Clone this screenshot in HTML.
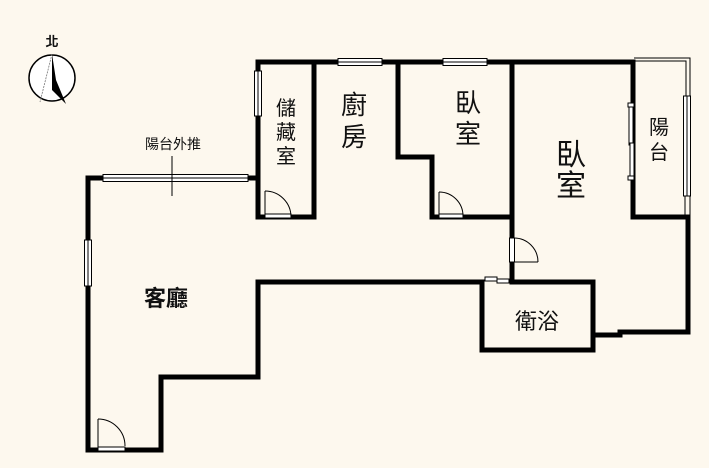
<!DOCTYPE html>
<html><head><meta charset="utf-8"><style>
html,body{margin:0;padding:0;background:#fdf8ee;}
svg{display:block;}
text{font-family:"Liberation Sans","Noto Sans CJK TC",sans-serif;fill:#111;}
</style></head><body>
<svg width="709" height="468" viewBox="0 0 709 468" xmlns="http://www.w3.org/2000/svg">
<rect width="709" height="468" fill="#fdf8ee"/>
<g stroke="#000" stroke-width="5" fill="none" stroke-linecap="square">
<polyline points="103,178 88,178 88,450 161,450 161,377 258,377 258,282 482,282"/>
<line x1="248" y1="178" x2="258" y2="178"/>
<polyline points="258,178 258,62 633,62"/>
<polyline points="314,62 314,217 258,217 258,178"/>
<polyline points="398,62 398,157 432,157 432,217 512,217"/>
<line x1="512" y1="62" x2="512" y2="238"/>
<line x1="512" y1="262" x2="512" y2="282"/>
<polyline points="482,282 482,350 593,350 593,282 512,282"/>
<polyline points="633,62 633,217 688,217 688,332 620,332 620,335 593,335"/>
</g>
<g stroke="#000" stroke-width="1" fill="#fff">
<rect x="103" y="174.5" width="145" height="7"/>
<line x1="103" y1="178" x2="248" y2="178"/>
<rect x="84.5" y="240" width="7" height="46"/>
<line x1="88" y1="240" x2="88" y2="286"/>
<rect x="254.5" y="71" width="7" height="45"/>
<line x1="258" y1="71" x2="258" y2="116"/>
<rect x="338" y="58.5" width="44" height="7"/>
<line x1="338" y1="62" x2="382" y2="62"/>
<rect x="443" y="58.5" width="44" height="7"/>
<line x1="443" y1="62" x2="487" y2="62"/>
<rect x="683.5" y="96" width="7" height="100"/>
<line x1="687" y1="96" x2="687" y2="196"/>
<rect x="629" y="105" width="4" height="40"/>
<rect x="630" y="143" width="4" height="36"/>
<rect x="628" y="103" width="6" height="4"/>
<rect x="628" y="176" width="6" height="4"/>
<rect x="485" y="277" width="12" height="4"/>
<rect x="497" y="279" width="12" height="4"/>
<rect x="98" y="447" width="27" height="4"/>
<rect x="265" y="214" width="26" height="4"/>
<rect x="439" y="214" width="24" height="4"/>
<rect x="509.5" y="238" width="5" height="24"/>
</g>
<g stroke="#000" stroke-width="1" fill="none">
<polyline points="634,58 690,58 690,96"/>
<polyline points="634,61 686,61 686,96"/>
<line x1="685" y1="196" x2="685" y2="217"/>
<line x1="690" y1="196" x2="690" y2="217"/>
<line x1="172" y1="156" x2="172" y2="196"/>
<path d="M98,419 A27,27 0 0 1 125,446"/><line x1="98" y1="419" x2="98" y2="447"/>
<path d="M265,191 A26,26 0 0 1 291,217"/><line x1="265" y1="191" x2="265" y2="214"/>
<path d="M439,192 A24,24 0 0 1 463,216"/><line x1="439" y1="192" x2="439" y2="214"/>
<path d="M514,238 A24,24 0 0 1 538,262"/><line x1="514" y1="262" x2="538" y2="262"/>
</g>
<circle cx="52" cy="78" r="23" fill="#fff" stroke="#000" stroke-width="1.5"/>
<polygon points="52,54 56,80 66,104 52,90" fill="#000"/>
<line x1="52" y1="54" x2="40" y2="102" stroke="#777" stroke-width="0.8" stroke-dasharray="2,1"/>
<text x="52" y="46" font-size="13" font-weight="bold" text-anchor="middle">北</text>
<text x="173" y="149" font-size="14" text-anchor="middle">陽台外推</text>
<text x="166" y="306" font-size="22" font-weight="bold" text-anchor="middle">客廳</text>
<text x="286" y="115" font-size="20" text-anchor="middle">儲</text>
<text x="286" y="139" font-size="20" text-anchor="middle">藏</text>
<text x="286" y="163" font-size="20" text-anchor="middle">室</text>
<text x="354" y="114" font-size="26" text-anchor="middle">廚</text>
<text x="354" y="146" font-size="26" text-anchor="middle">房</text>
<text x="468" y="112" font-size="26" text-anchor="middle">臥</text>
<text x="468" y="143" font-size="26" text-anchor="middle">室</text>
<text x="571" y="165" font-size="30" text-anchor="middle">臥</text>
<text x="571" y="196" font-size="30" text-anchor="middle">室</text>
<text x="659" y="134" font-size="20" text-anchor="middle">陽</text>
<text x="659" y="159" font-size="20" text-anchor="middle">台</text>
<text x="537" y="329" font-size="22" text-anchor="middle">衛浴</text>
</svg>
</body></html>
